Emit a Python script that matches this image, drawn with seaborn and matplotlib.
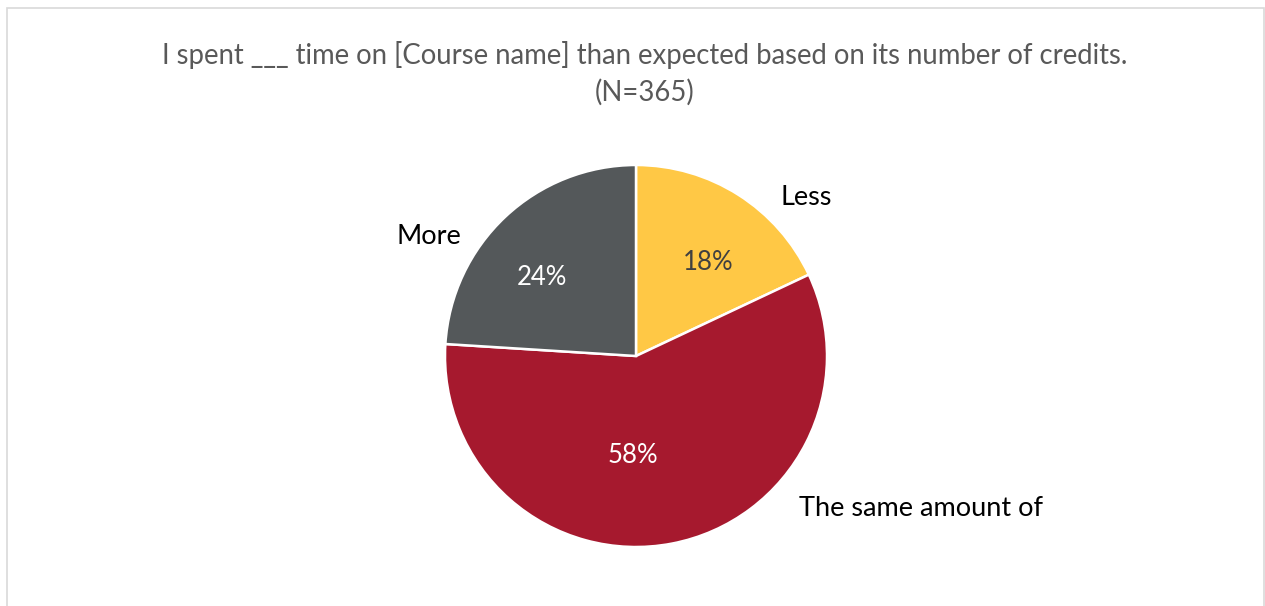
import numpy as np
import matplotlib
matplotlib.use("Agg")
import matplotlib.pyplot as plt
import seaborn as sns
from matplotlib.patches import Rectangle

# dados do gráfico
categorias = ["Less", "The same amount of", "More"]
percentuais = [18, 58, 24]
cores = ["#FFC845", "#A6192E", "#54585A"]
cores_pct = ["#404040", "white", "white"]
titulo = "I spent ___ time on [Course name] than expected based on its number of credits.\n(N=365)"

sns.set_theme(style="white")
plt.rcParams["font.family"] = ["Lato", "DejaVu Sans"]

W, H = 1265, 606
fig = plt.figure(figsize=(W / 100, H / 100), dpi=100)

# eixo quadrado centrado no pie (raio ~191 px)
R = 191
cx, cy = 636, H - 356
ax = fig.add_axes([(cx - 2 * R) / W, (cy - 2 * R) / H, 4 * R / W, 4 * R / H])

wedges, textos, pcts = ax.pie(
    percentuais, labels=categorias, colors=sns.color_palette(cores),
    startangle=90, counterclock=False, radius=1,
    autopct="%d%%", pctdistance=0.6, labeldistance=1.2,
    wedgeprops=dict(edgecolor="white", linewidth=1.8),
    textprops=dict(fontsize=19))
ax.set_xlim(-2, 2)
ax.set_ylim(-2, 2)
ax.axis("off")

# posição dos rótulos (ângulo, distância) estilo Excel
pos_rotulos = [(43, 1.22, "center"), (-43, 1.17, "left"), (150, 1.25, "center")]
for t, (ang, d, ha) in zip(textos, pos_rotulos):
    a = np.deg2rad(ang)
    t.set_position((d * np.cos(a), d * np.sin(a)))
    t.set_ha(ha)
    t.set_va("center")
    t.set_color("black")
    t.set_fontsize(19.5)

pos_pct = [(52.5, 0.62), (-92, 0.52), (140, 0.64)]
for t, (ang, d), c in zip(pcts, pos_pct, cores_pct):
    a = np.deg2rad(ang)
    t.set_position((d * np.cos(a), d * np.sin(a)))
    t.set_color(c)
    t.set_fontsize(18.5)
    t.set_ha("center")
    t.set_va("center")

fig.text(645 / W, 1 - 73 / H, titulo, ha="center", va="center",
         fontsize=19.8, color="#595959", linespacing=1.45)

# moldura do gráfico
fig.patches.append(Rectangle((7 / W, -0.1), 1257 / W, 1.1 - 7.5 / H,
                             transform=fig.transFigure, fill=False,
                             edgecolor="#D9D9D9", linewidth=1.2))

fig.savefig("out.png", dpi=100)
